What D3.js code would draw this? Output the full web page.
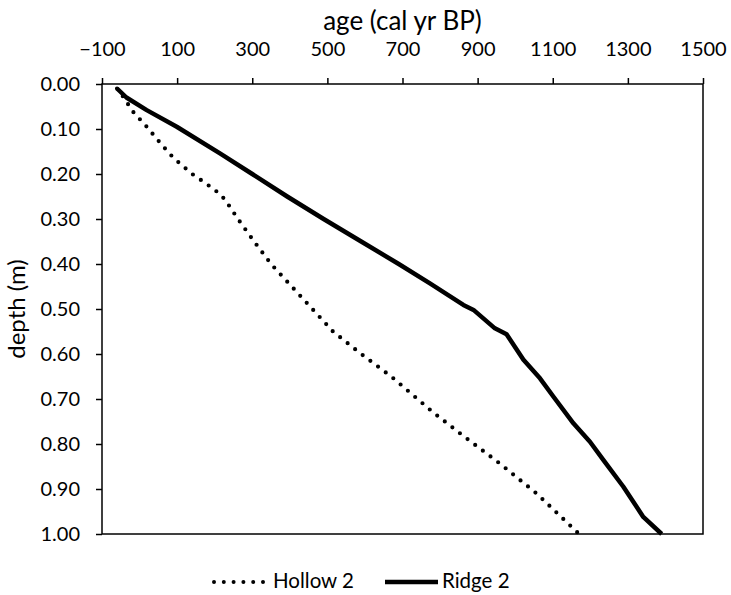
<!DOCTYPE html>
<html>
<head>
<meta charset="utf-8">
<script src="https://cdn.jsdelivr.net/npm/d3@7"></script>
<style>
  html, body { margin: 0; padding: 0; background: #fff; }
  svg { display: block; }
  text { font-family: Lato, "Open Sans", sans-serif; fill: #000; }
</style>
</head>
<body>
<svg id="chart" width="731" height="595"></svg>
<script>
// ---- data ----
const xTickValues = [-100, 100, 300, 500, 700, 900, 1100, 1300, 1500];
const yTickValues = [0, 0.1, 0.2, 0.3, 0.4, 0.5, 0.6, 0.7, 0.8, 0.9, 1.0];

const ridgeDepth = [0.01, 0.03, 0.058, 0.095, 0.154, 0.20, 0.25, 0.30, 0.35, 0.40, 0.443, 0.491, 0.502, 0.543, 0.556, 0.613, 0.654, 0.695, 0.754, 0.795, 0.836, 0.895, 0.962, 1.00];
const ridgeAge   = [-60, -35, 19, 99, 214, 300, 393, 490, 590, 690, 773, 862, 889, 946, 977, 1022, 1066, 1102, 1155, 1199, 1235, 1288, 1341, 1390];

const hollowDepth = [0.01, 0.024, 0.061, 0.093, 0.123, 0.154, 0.167, 0.20, 0.22, 0.245, 0.26, 0.30, 0.35, 0.40, 0.45, 0.50, 0.55, 0.60, 0.65, 0.70, 0.73, 0.782, 0.844, 0.91, 1.00];
const hollowAge   = [-60, -47, -18, 17, 47, 79, 94, 140, 175, 215, 230, 262, 305, 350, 405, 460, 515, 590, 670, 740, 782, 862, 960, 1057, 1170];

const seriesNames = ["Hollow 2", "Ridge 2"];
const xTitle = "age (cal yr BP)";
const yTitle = "depth (m)";

// ---- layout ----
const svg = d3.select("#chart");
const L = 102, R = 703, T = 84, B = 534;

const x = d3.scaleLinear().domain([-100, 1500]).range([L, R]);
const y = d3.scaleLinear().domain([0, 1]).range([T, B]);

// axes
const xAxis = d3.axisTop(x).tickValues(xTickValues).tickSize(6).tickSizeOuter(0).tickPadding(22)
  .tickFormat(d3.format("d"));
const yAxis = d3.axisLeft(y).tickValues(yTickValues).tickSize(6).tickSizeOuter(0).tickPadding(16)
  .tickFormat(d3.format(".2f"));

const gx = svg.append("g").attr("transform", `translate(0,${T})`).call(xAxis);
const gy = svg.append("g").attr("transform", `translate(${L},0)`).call(yAxis);
[gx, gy].forEach(g => {
  g.select(".domain").remove();
  g.selectAll(".tick line").attr("stroke", "#000").attr("stroke-width", 1.5);
  g.selectAll(".tick text").style("font-size", "20px").attr("fill", "#000");
});
gx.selectAll(".tick text").attr("dy", "0");

// plot frame
svg.append("rect")
  .attr("x", L).attr("y", T).attr("width", R - L).attr("height", B - T)
  .attr("fill", "none").attr("stroke", "#000").attr("stroke-width", 1.5);

// titles
svg.append("text").attr("x", (L + R) / 2).attr("y", 30).attr("text-anchor", "middle")
  .style("font-size", "26px").text(xTitle);
svg.append("text").attr("transform", `translate(25,${(T + B) / 2}) rotate(-90)`)
  .attr("text-anchor", "middle").style("font-size", "24px").text(yTitle);

// lines
const line = d3.line().x(d => x(d[0])).y(d => y(d[1]));
const hollow = hollowAge.map((a, i) => [a, hollowDepth[i]]);
const ridge = ridgeAge.map((a, i) => [a, ridgeDepth[i]]);

svg.append("path").datum(hollow).attr("d", line)
  .attr("fill", "none").attr("stroke", "#000").attr("stroke-width", 4.2)
  .attr("stroke-linecap", "round").attr("stroke-dasharray", "0 9.6");
svg.append("path").datum(ridge).attr("d", line)
  .attr("fill", "none").attr("stroke", "#000").attr("stroke-width", 4.5)
  .attr("stroke-linejoin", "round");

// legend
const ly = 588;
const leg = svg.append("g");
leg.append("line").attr("x1", 214).attr("x2", 263).attr("y1", ly - 6).attr("y2", ly - 6)
  .attr("stroke", "#000").attr("stroke-width", 4).attr("stroke-linecap", "round")
  .attr("stroke-dasharray", "0 9.8");
leg.append("text").attr("x", 273).attr("y", ly).style("font-size", "20.5px").text(seriesNames[0]);
leg.append("line").attr("x1", 385).attr("x2", 438).attr("y1", ly - 6).attr("y2", ly - 6)
  .attr("stroke", "#000").attr("stroke-width", 4.5);
leg.append("text").attr("x", 442).attr("y", ly).style("font-size", "20.5px").text(seriesNames[1]);
</script>
</body>
</html>
